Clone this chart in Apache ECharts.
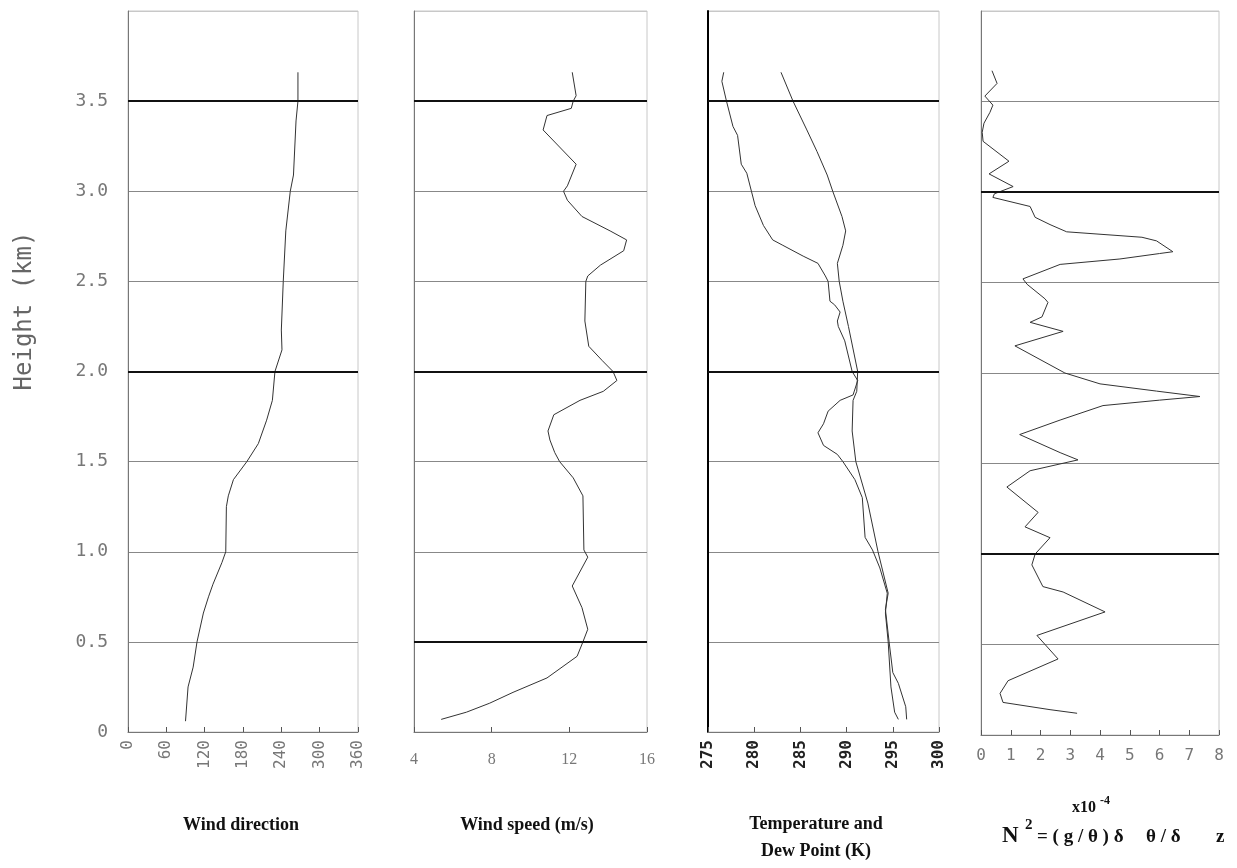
<!DOCTYPE html>
<html>
<head>
	<meta charset="UTF-8">
	<title>Profiles</title>
	<script src="https://cdn.jsdelivr.net/npm/echarts@6/dist/echarts.min.js"></script>
	<style>
		html, body { margin: 0; padding: 0; background: #fff; }
		#main { width: 1237px; height: 868px; }
	</style>
</head>
<body>
	<div id="main"></div>
	<script>
		// wind direction profile
		var dirH = [0.06, 0.25, 0.36, 0.50, 0.66, 0.75, 0.82, 0.94, 1.00, 1.25, 1.31, 1.40, 1.50, 1.60, 1.73, 1.84, 2.00, 2.12, 2.23, 2.50, 2.78, 3.00, 3.09, 3.39, 3.50, 3.66]
		var dirVal = [90, 94, 102, 108, 118, 126, 133, 147, 153, 154, 157, 165, 186, 204, 217, 226, 230, 241, 240, 243, 247, 254, 259, 263, 266, 266]

		// wind speed profile
		var spdH = [0.07, 0.11, 0.16, 0.22, 0.30, 0.42, 0.50, 0.57, 0.69, 0.81, 0.97, 1.01, 1.31, 1.41, 1.50, 1.55, 1.62, 1.67, 1.76, 1.84, 1.89, 1.95, 2.00, 2.06, 2.14, 2.28, 2.50, 2.53, 2.59, 2.67, 2.73, 2.78, 2.86, 2.95, 3.00, 3.03, 3.15, 3.34, 3.42, 3.46, 3.50, 3.53, 3.66]
		var spdVal = [5.4, 6.7, 7.9, 9.1, 10.85, 12.4, 12.7, 12.95, 12.65, 12.15, 12.95, 12.75, 12.7, 12.2, 11.5, 11.25, 11.0, 10.9, 11.2, 12.55, 13.75, 14.45, 14.25, 13.7, 13.0, 12.8, 12.85, 12.95, 13.6, 14.8, 14.95, 14.1, 12.65, 11.9, 11.7, 11.9, 12.35, 10.65, 10.85, 12.1, 12.2, 12.35, 12.15]

		// dew point profile
		var dewH = [0.07, 0.11, 0.25, 0.50, 0.66, 0.77, 0.91, 1.01, 1.08, 1.30, 1.40, 1.50, 1.54, 1.59, 1.66, 1.71, 1.78, 1.84, 1.87, 1.95, 2.00, 2.17, 2.25, 2.28, 2.33, 2.37, 2.39, 2.50, 2.53, 2.60, 2.64, 2.70, 2.73, 2.81, 2.92, 3.00, 3.10, 3.15, 3.31, 3.36, 3.50, 3.61, 3.66]
		var dewVal = [295.6, 295.2, 294.8, 294.5, 294.2, 294.4, 293.6, 292.8, 292.0, 291.7, 290.9, 289.6, 289.0, 287.5, 286.9, 287.5, 288.0, 289.3, 290.7, 291.2, 290.6, 289.8, 289.1, 289.0, 289.3, 288.7, 288.2, 288.0, 287.7, 286.9, 285.3, 283.1, 282.0, 281.0, 280.1, 279.7, 279.2, 278.6, 278.2, 277.7, 277.0, 276.5, 276.7]

		// temperature profile
		var tmpH = [0.07, 0.14, 0.27, 0.33, 0.50, 0.68, 0.77, 1.00, 1.27, 1.50, 1.67, 1.84, 1.89, 2.00, 2.25, 2.39, 2.50, 2.60, 2.70, 2.78, 2.86, 3.00, 3.09, 3.22, 3.34, 3.50, 3.66]
		var tmpVal = [296.5, 296.4, 295.6, 295.0, 294.6, 294.2, 294.5, 293.4, 292.3, 291.0, 290.6, 290.7, 291.1, 291.2, 290.2, 289.6, 289.2, 289.0, 289.6, 289.9, 289.5, 288.5, 287.9, 286.8, 285.7, 284.2, 282.9]

		// N^2 profile (x10-4)
		var n2H = [0.12, 0.14, 0.18, 0.23, 0.30, 0.42, 0.55, 0.68, 0.79, 0.82, 0.94, 1.00, 1.09, 1.15, 1.23, 1.37, 1.46, 1.52, 1.56, 1.66, 1.74, 1.82, 1.85, 1.87, 1.90, 1.94, 2.00, 2.15, 2.23, 2.28, 2.31, 2.39, 2.41, 2.49, 2.52, 2.60, 2.63, 2.66, 2.67, 2.73, 2.75, 2.78, 2.82, 2.86, 2.92, 2.97, 2.99, 3.03, 3.10, 3.17, 3.28, 3.33, 3.38, 3.44, 3.48, 3.53, 3.60, 3.67]
		var n2Val = [3.23, 2.32, 0.74, 0.64, 0.91, 2.59, 1.88, 4.17, 2.76, 2.08, 1.71, 1.82, 2.32, 1.48, 1.92, 0.87, 1.65, 3.26, 2.66, 1.3, 2.66, 4.1, 6.0, 7.36, 5.9, 4.0, 2.82, 1.14, 2.76, 1.65, 2.05, 2.25, 2.15, 1.55, 1.41, 2.66, 4.67, 6.0, 6.45, 5.9, 5.41, 2.88, 2.32, 1.82, 1.65, 0.40, 0.45, 1.08, 0.27, 0.94, 0.07, 0.04, 0.10, 0.30, 0.40, 0.13, 0.54, 0.37]

		// heavy reference lines in each panel
		var dark1 = [2.0, 3.5]
		var dark2 = [0.5, 2.0, 3.5]
		var dark3 = [2.0, 3.5]
		var dark4 = [1.0, 3.0]

		function pairs(h, v) {
			return h.map(function(y, i) { return [v[i], y] })
		}

		function darkLines(arr) {
			return {
				silent: true,
				symbol: ['none', 'none'],
				label: { show: false },
				lineStyle: { color: '#111', width: 2, type: 'solid' },
				data: arr.map(function(v) { return { yAxis: v } })
			}
		}

		var mono = '"DejaVu Sans Mono", monospace'
		var serif = '"Liberation Serif", serif'

		var grids = [
			{ left: 128, top: 11, width: 230, height: 721 },
			{ left: 414, top: 11, width: 233, height: 721 },
			{ left: 708, top: 11, width: 231, height: 721 },
			{ left: 981, top: 11, width: 238, height: 724 }
		]
		grids.forEach(function(g) {
			g.show = true
			g.borderColor = '#c8c8c8'
			g.borderWidth = 1
			g.backgroundColor = '#fff'
		})

		var xAxes = [
			{ min: 0, max: 360, interval: 60, rotate: 90, font: mono, size: 16, color: '#777', margin: 8 },
			{ min: 4, max: 16, interval: 4, rotate: 0, font: serif, size: 16, color: '#777', margin: 20 },
			{ min: 275, max: 300, interval: 5, rotate: 90, font: mono, size: 16, color: '#222', margin: 8 },
			{ min: 0, max: 8, interval: 1, rotate: 0, font: mono, size: 16, color: '#777', margin: 13 }
		].map(function(a, i) {
			return {
				type: 'value',
				gridIndex: i,
				min: a.min,
				max: a.max,
				interval: a.interval,
				splitLine: { show: false },
				axisLine: { show: true, lineStyle: { color: '#777', width: 1 } },
				axisTick: { show: true, inside: true, length: 5, lineStyle: { color: '#555' } },
				axisLabel: {
					rotate: a.rotate,
					fontFamily: a.font,
					fontSize: a.size,
					color: a.color,
					margin: a.margin,
					fontWeight: i == 2 ? 'bold' : 'normal'
				}
			}
		})

		var yAxes = [0, 1, 2, 3].map(function(i) {
			return {
				type: 'value',
				gridIndex: i,
				min: 0,
				max: 4,
				interval: 0.5,
				axisLine: { show: true, lineStyle: { color: i == 2 ? '#000' : '#777', width: i == 2 ? 2 : 1 } },
				axisTick: { show: false },
				splitLine: { show: true, lineStyle: { color: ['#777', '#888', '#888', '#888', '#888', '#888', '#888', '#888', '#c8c8c8'], width: 1 } },
				axisLabel: {
					show: i == 0,
					fontFamily: mono,
					fontSize: 18,
					color: '#777',
					margin: 20,
					formatter: function(v) {
						if (v == 4) return ''
						if (v == 0) return '0'
						return v.toFixed(1)
					}
				}
			}
		})

		var lineStyle = { color: '#333', width: 1 }
		var series = [
			{ type: 'line', xAxisIndex: 0, yAxisIndex: 0, data: pairs(dirH, dirVal), markLine: darkLines(dark1) },
			{ type: 'line', xAxisIndex: 1, yAxisIndex: 1, data: pairs(spdH, spdVal), markLine: darkLines(dark2) },
			{ type: 'line', xAxisIndex: 2, yAxisIndex: 2, data: pairs(dewH, dewVal), markLine: darkLines(dark3) },
			{ type: 'line', xAxisIndex: 2, yAxisIndex: 2, data: pairs(tmpH, tmpVal) },
			{ type: 'line', xAxisIndex: 3, yAxisIndex: 3, data: pairs(n2H, n2Val), markLine: darkLines(dark4) }
		]
		series.forEach(function(s) {
			s.symbol = 'none'
			s.smooth = false
			s.lineStyle = lineStyle
			s.animation = false
		})

		var titleFont = 'bold 18px "Liberation Serif", serif'
		var eqFont = 'bold 19px "Liberation Serif", serif'
		var graphic = [
			{ type: 'text', x: 25, y: 311, rotation: Math.PI / 2, style: { text: 'Height (km)', font: '24px "DejaVu Sans Mono", monospace', fill: '#666', align: 'center', verticalAlign: 'middle' } },
			{ type: 'text', x: 241, y: 825, style: { text: 'Wind direction', font: titleFont, fill: '#111', align: 'center', verticalAlign: 'middle' } },
			{ type: 'text', x: 527, y: 825, style: { text: 'Wind speed (m/s)', font: titleFont, fill: '#111', align: 'center', verticalAlign: 'middle' } },
			{ type: 'text', x: 816, y: 838, style: { text: 'Temperature and\nDew Point (K)', font: titleFont, lineHeight: 27, fill: '#111', align: 'center', verticalAlign: 'middle' } },
			{ type: 'text', x: 1072, y: 808, style: { text: 'x10', font: 'bold 16px "Liberation Serif", serif', fill: '#111', align: 'left', verticalAlign: 'middle' } },
			{ type: 'text', x: 1100, y: 801, style: { text: '-4', font: 'bold 12px "Liberation Serif", serif', fill: '#111', align: 'left', verticalAlign: 'middle' } },
			{ type: 'text', x: 1002, y: 836, style: { text: 'N', font: 'bold 23px "Liberation Serif", serif', fill: '#111', align: 'left', verticalAlign: 'middle' } },
			{ type: 'text', x: 1025, y: 825, style: { text: '2', font: 'bold 15px "Liberation Serif", serif', fill: '#111', align: 'left', verticalAlign: 'middle' } },
			{ type: 'text', x: 1037, y: 837, style: { text: '= ( g / θ ) δ', font: eqFont, fill: '#111', align: 'left', verticalAlign: 'middle' } },
			{ type: 'text', x: 1146, y: 837, style: { text: 'θ / δ', font: eqFont, fill: '#111', align: 'left', verticalAlign: 'middle' } },
			{ type: 'text', x: 1216, y: 837, style: { text: 'z', font: eqFont, fill: '#111', align: 'left', verticalAlign: 'middle' } }
		]

		var chart = echarts.init(document.getElementById('main'))
		chart.setOption({
			animation: false,
			backgroundColor: '#fff',
			grid: grids,
			xAxis: xAxes,
			yAxis: yAxes,
			series: series,
			graphic: graphic
		})
	</script>
</body>
</html>
